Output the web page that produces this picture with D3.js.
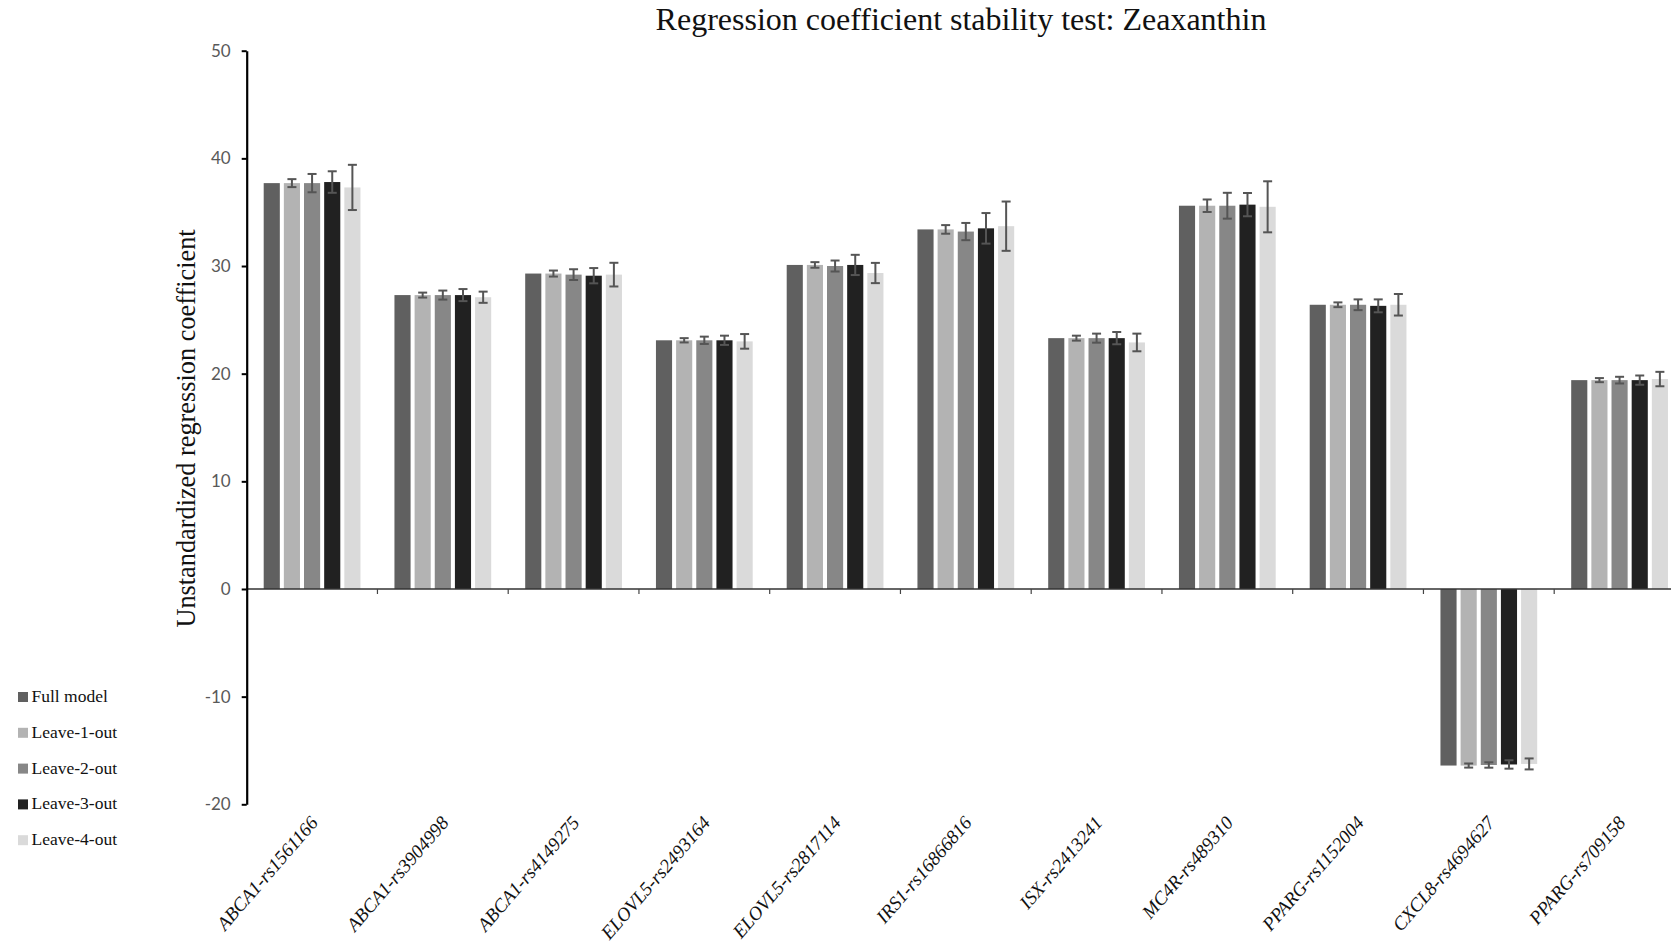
<!DOCTYPE html>
<html>
<head>
<meta charset="utf-8">
<script src="https://cdn.jsdelivr.net/npm/d3@7"></script>
<style>
  html, body { margin: 0; padding: 0; background: #fff; }
  svg { display: block; }
</style>
</head>
<body>
<svg id="chart" width="1671" height="946"></svg>
<script>
// ---- data ----
const categories = [
  "ABCA1-rs1561166", "ABCA1-rs3904998", "ABCA1-rs4149275", "ELOVL5-rs2493164",
  "ELOVL5-rs2817114", "IRS1-rs16866816", "ISX-rs2413241", "MC4R-rs489310",
  "PPARG-rs1152004", "CXCL8-rs4694627", "PPARG-rs709158"
];
const seriesNames = ["Full model", "Leave-1-out", "Leave-2-out", "Leave-3-out", "Leave-4-out"];

const fullModel = [37.7, 27.3, 29.3, 23.1, 30.1, 33.4, 23.3, 35.6, 26.4, -16.4, 19.4];
const leave1    = [37.7, 27.3, 29.3, 23.1, 30.1, 33.4, 23.3, 35.6, 26.4, -16.4, 19.4];
const leave2    = [37.7, 27.3, 29.2, 23.1, 30.0, 33.2, 23.3, 35.6, 26.4, -16.35, 19.4];
const leave3    = [37.8, 27.3, 29.1, 23.1, 30.1, 33.5, 23.3, 35.7, 26.3, -16.3, 19.4];
const leave4    = [37.3, 27.1, 29.2, 23.0, 29.35, 33.7, 22.9, 35.5, 26.4, -16.25, 19.5];

// half-width of each error bar (the full model has none)
const leave1Err = [0.37, 0.23, 0.28, 0.20, 0.26, 0.40, 0.23, 0.58, 0.22, 0.19, 0.19];
const leave2Err = [0.85, 0.42, 0.50, 0.34, 0.51, 0.80, 0.42, 1.20, 0.50, 0.25, 0.31];
const leave3Err = [1.00, 0.56, 0.71, 0.43, 0.94, 1.42, 0.57, 1.08, 0.60, 0.39, 0.43];
const leave4Err = [2.10, 0.52, 1.10, 0.68, 0.94, 2.29, 0.82, 2.37, 1.00, 0.51, 0.67];

const yTicks = [-20, -10, 0, 10, 20, 30, 40, 50];

// ---- styling ----
const colors = ["#606060", "#b3b3b3", "#878787", "#212121", "#dadada"];
const serif = "'Liberation Serif', 'Times New Roman', serif";

const seriesValues = [fullModel, leave1, leave2, leave3, leave4];
const seriesErrors = [null, leave1Err, leave2Err, leave3Err, leave4Err];

const svg = d3.select("#chart");

// plot area (extends past the right edge of the page, so the last group is cut off)
const plotLeft = 246.7, step = 130.75;
const plotRight = plotLeft + step * categories.length;
const plotTop = 50.7, plotBottom = 804.3;

const x = d3.scaleBand().domain(categories).range([plotLeft, plotRight]).padding(0);
const groupPad = 17;
const xs = d3.scaleBand().domain(d3.range(seriesNames.length))
  .range([groupPad, step - groupPad]).paddingInner(0.2).paddingOuter(0);
const y = d3.scaleLinear().domain([-20, 50]).range([plotBottom, plotTop]);

// ---- bars ----
const rows = [];
seriesValues.forEach((vals, s) => {
  vals.forEach((v, i) => rows.push({ s, cat: categories[i], v, e: seriesErrors[s] ? seriesErrors[s][i] : null }));
});

svg.append("g").selectAll("rect").data(rows).join("rect")
  .attr("x", d => x(d.cat) + xs(d.s))
  .attr("width", xs.bandwidth())
  .attr("y", d => y(Math.max(0, d.v)))
  .attr("height", d => Math.abs(y(d.v) - y(0)))
  .attr("fill", d => colors[d.s]);

// ---- error bars ----
const eg = svg.append("g").attr("stroke", "#555").attr("stroke-width", 2).attr("fill", "none");
const errRows = rows.filter(d => d.e != null);
const cap = 4.5;
errRows.forEach(d => {
  const cx = x(d.cat) + xs(d.s) + xs.bandwidth() / 2;
  const y1 = y(d.v + d.e), y2 = y(d.v - d.e);
  eg.append("line").attr("x1", cx).attr("x2", cx).attr("y1", y1).attr("y2", y2);
  eg.append("line").attr("x1", cx - cap).attr("x2", cx + cap).attr("y1", y1).attr("y2", y1);
  eg.append("line").attr("x1", cx - cap).attr("x2", cx + cap).attr("y1", y2).attr("y2", y2);
});

// ---- category axis along zero ----
const xAxisG = svg.append("g");
xAxisG.append("line")
  .attr("x1", plotLeft).attr("x2", plotRight)
  .attr("y1", y(0)).attr("y2", y(0))
  .attr("stroke", "#333").attr("stroke-width", 1.6);
xAxisG.selectAll("line.tick").data(categories.slice(1)).join("line")
  .attr("class", "tick")
  .attr("x1", d => x(d)).attr("x2", d => x(d))
  .attr("y1", y(0)).attr("y2", y(0) + 5)
  .attr("stroke", "#444").attr("stroke-width", 1.2);

// rotated category labels below the plot
svg.append("g").selectAll("text").data(categories).join("text")
  .attr("transform", d => `translate(${x(d) + step / 2 + 7},${plotBottom + 19}) rotate(-49)`)
  .attr("text-anchor", "end")
  .attr("font-family", serif)
  .attr("font-style", "italic")
  .attr("font-size", 19)
  .attr("fill", "#111")
  .text(d => d);

// ---- value axis ----
const yAxis = d3.axisLeft(y).tickValues(yTicks).tickFormat(d => String(d))
  .tickSize(5).tickSizeOuter(0).tickPadding(11);
const yG = svg.append("g").attr("transform", `translate(${plotLeft},0)`).call(yAxis);
yG.select(".domain").attr("stroke", "#000").attr("stroke-width", 2.2);
yG.selectAll(".tick line").attr("stroke", "#000").attr("stroke-width", 2);
yG.selectAll(".tick text")
  .attr("font-family", "Lato, 'Open Sans', sans-serif")
  .attr("font-size", 17)
  .attr("fill", "#595959");

// axis title
svg.append("text")
  .attr("transform", `translate(195,${(plotTop + plotBottom) / 2 + 1}) rotate(-90)`)
  .attr("text-anchor", "middle")
  .attr("font-family", serif)
  .attr("font-size", 26.3)
  .attr("fill", "#111")
  .text("Unstandardized regression coefficient");

// chart title
svg.append("text")
  .attr("x", 961).attr("y", 30)
  .attr("text-anchor", "middle")
  .attr("font-family", serif)
  .attr("font-size", 32)
  .attr("fill", "#111")
  .text("Regression coefficient stability test: Zeaxanthin");

// ---- legend ----
const legend = svg.append("g").attr("transform", "translate(18,692)");
const lg = legend.selectAll("g").data(seriesNames).join("g")
  .attr("transform", (d, i) => `translate(0,${i * 35.8})`);
lg.append("rect").attr("width", 10).attr("height", 10).attr("fill", (d, i) => colors[i]);
lg.append("text")
  .attr("x", 13.5).attr("y", 10)
  .attr("font-family", serif)
  .attr("font-size", 17.5)
  .attr("fill", "#111")
  .text(d => d);
</script>
</body>
</html>
